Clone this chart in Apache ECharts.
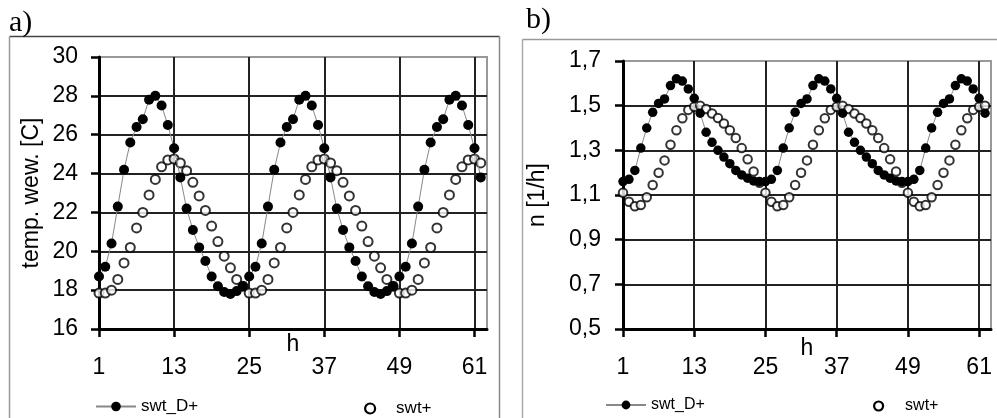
<!DOCTYPE html>
<html>
<head>
<meta charset="utf-8">
<script src="https://cdn.jsdelivr.net/npm/echarts@6/dist/echarts.min.js"></script>
<style>
html,body{margin:0;padding:0;background:#fff;}
#c{width:997px;height:418px;}
</style>
</head>
<body>
<div id="c"></div>
<script>
// ---------- data ----------
const hours = [];
for (let i = 1; i <= 63; i++) hours.push(String(i));

// panel a) temperature [C], hours 1..62
const tempSwtD = [
  18.7,19.2,20.4,22.3,24.2,25.6,26.4,26.8,27.8,28.0,27.5,26.5,25.3,23.8,22.2,21.1,20.2,19.5,18.7,18.2,17.9,17.8,17.95,18.2,
  18.7,19.2,20.4,22.3,24.2,25.6,26.4,26.8,27.8,28.0,27.5,26.5,25.3,23.8,22.2,21.1,20.2,19.5,18.7,18.2,17.9,17.8,17.95,18.2,
  18.7,19.2,20.4,22.3,24.2,25.6,26.4,26.8,27.8,28.0,27.5,26.5,25.3,23.8
];
const tempSwt = [
  17.85,17.85,18.0,18.55,19.4,20.2,21.2,22.0,22.9,23.7,24.35,24.7,24.75,24.55,24.15,23.55,22.85,22.1,21.3,20.5,19.75,19.15,18.55,18.2,
  17.85,17.85,18.0,18.55,19.4,20.2,21.2,22.0,22.9,23.7,24.35,24.7,24.75,24.55,24.15,23.55,22.85,22.1,21.3,20.5,19.75,19.15,18.55,18.2,
  17.85,17.85,18.0,18.55,19.4,20.2,21.2,22.0,22.9,23.7,24.35,24.7,24.75,24.55
];
// panel b) air change rate n [1/h]
const nSwtD = [
  1.16,1.17,1.21,1.31,1.40,1.47,1.51,1.53,1.59,1.62,1.61,1.575,1.533,1.466,1.381,1.336,1.30,1.27,1.24,1.21,1.19,1.175,1.163,1.16,
  1.16,1.17,1.21,1.31,1.40,1.47,1.51,1.53,1.59,1.62,1.61,1.575,1.533,1.466,1.381,1.336,1.30,1.27,1.24,1.21,1.19,1.175,1.163,1.16,
  1.16,1.17,1.21,1.31,1.40,1.47,1.51,1.53,1.59,1.62,1.61,1.575,1.533,1.466
];
const nSwt = [
  1.11,1.07,1.05,1.055,1.09,1.145,1.20,1.255,1.325,1.39,1.444,1.481,1.495,1.50,1.485,1.465,1.445,1.42,1.39,1.355,1.31,1.26,1.205,1.155,
  1.11,1.07,1.05,1.055,1.09,1.145,1.20,1.255,1.325,1.39,1.444,1.481,1.495,1.50,1.485,1.465,1.445,1.42,1.39,1.355,1.31,1.26,1.205,1.155,
  1.11,1.07,1.05,1.055,1.09,1.145,1.20,1.255,1.325,1.39,1.444,1.481,1.495,1.50
];
const seriesNames = ['swt_D+', 'swt+'];
const panelTitles = ['a)', 'b)'];
const yNames = ['temp. wew. [C]', 'n [1/h]'];
const xName = 'h';

// ---------- chart ----------
const chart = echarts.init(document.getElementById('c'), null, {renderer: 'canvas'});
const F = 'Liberation Sans, Arial, sans-serif';

function xAxis(gi, gap) {
  return {
    type: 'category', gridIndex: gi, data: hours, boundaryGap: false,
    name: xName, nameLocation: 'middle', nameGap: gap, nameMoveOverlap: false,
    nameTextStyle: {fontFamily: F, fontSize: 23, color: '#000'},
    axisLine: {lineStyle: {color: '#000', width: 3}},
    axisTick: {interval: 11, length: 8, lineStyle: {color: '#000', width: 2.5}},
    axisLabel: {interval: 11, margin: 27, fontFamily: F, fontSize: 23, color: '#000'},
    splitLine: {show: true, interval: 11, lineStyle: {color: '#222', width: 2}}
  };
}
function yAxis(gi, min, max, interval, nm, gap, fmt, nLines, margin) {
  const cols = [];
  for (let i = 0; i < nLines; i++) cols.push(i === nLines - 1 ? '#999' : '#222');
  return {
    type: 'value', gridIndex: gi, min: min, max: max, interval: interval,
    name: nm, nameLocation: 'middle', nameGap: gap, nameRotate: 90, nameMoveOverlap: false,
    nameTextStyle: {fontFamily: F, fontSize: 23, color: '#000'},
    axisLine: {show: true, lineStyle: {color: '#000', width: 3}},
    axisTick: {show: true, length: 8, lineStyle: {color: '#000', width: 2.5}},
    axisLabel: {margin: margin, fontFamily: F, fontSize: 23, color: '#000', formatter: fmt},
    splitLine: {show: true, lineStyle: {color: cols, width: 2}}
  };
}

const openStyle = {color: '#fff', borderColor: '#000', borderWidth: 2};
const openLegendItem = {name: seriesNames[1], icon: 'circle',
  itemStyle: {color: '#fff', borderColor: '#000', borderWidth: 2.2, opacity: 1}};

const option = {
  animation: false,
  backgroundColor: '#fff',
  graphic: [
    {type: 'line', shape: {x1: 9.5, y1: 36.5, x2: 499.5, y2: 36.5}, style: {stroke: '#444', lineWidth: 1.5}, silent: true},
    {type: 'line', shape: {x1: 9.5, y1: 36.5, x2: 9.5, y2: 418}, style: {stroke: '#999', lineWidth: 1.5}, silent: true},
    {type: 'line', shape: {x1: 499.5, y1: 36.5, x2: 499.5, y2: 418}, style: {stroke: '#888', lineWidth: 1.5}, silent: true},
    {type: 'line', shape: {x1: 522.5, y1: 39.5, x2: 997, y2: 39.5}, style: {stroke: '#999', lineWidth: 1.5}, silent: true},
    {type: 'line', shape: {x1: 522.5, y1: 39.5, x2: 522.5, y2: 418}, style: {stroke: '#aaa', lineWidth: 1.5}, silent: true},
    {type: 'text', style: {text: panelTitles[0], x: 9, y: 23, verticalAlign: 'middle', font: '30px "Liberation Serif", "Times New Roman", serif', fill: '#000'}, silent: true},
    {type: 'text', style: {text: panelTitles[1], x: 526, y: 20, verticalAlign: 'middle', font: '30px "Liberation Serif", "Times New Roman", serif', fill: '#000'}, silent: true}
  ],
  grid: [
    {left: 99, top: 57, width: 388, height: 272, show: true, borderColor: '#999', borderWidth: 2, backgroundColor: 'transparent', containLabel: false},
    {left: 623, top: 61, width: 368, height: 268, show: true, borderColor: '#999', borderWidth: 2, backgroundColor: 'transparent', containLabel: false}
  ],
  xAxis: [xAxis(0, 4), xAxis(1, 8)],
  yAxis: [
    yAxis(0, 16, 30, 2, yNames[0], 56, v => String(v), 8, 21),
    yAxis(1, 0.5, 1.7, 0.2, yNames[1], 74, v => v.toFixed(1).replace('.', ','), 7, 22)
  ],
  legend: [
    {data: [seriesNames[0]], left: 90, top: 393, itemWidth: 40, itemHeight: 12, itemGap: 0,
     textStyle: {fontFamily: F, fontSize: 17, color: '#000'}},
    {data: [openLegendItem], left: 359, top: 395, itemWidth: 10, itemHeight: 10,
     textStyle: {fontFamily: F, fontSize: 17, color: '#000', padding: [0, 0, 0, 16]}},
    {data: [seriesNames[0]], left: 600, top: 392, itemWidth: 40, itemHeight: 11,
     textStyle: {fontFamily: F, fontSize: 16, color: '#000'}},
    {data: [openLegendItem], left: 868, top: 393, itemWidth: 9, itemHeight: 9,
     textStyle: {fontFamily: F, fontSize: 16, color: '#000', padding: [0, 0, 0, 17]}}
  ],
  series: [
    {name: seriesNames[1], type: 'scatter', xAxisIndex: 0, yAxisIndex: 0, data: tempSwt, z: 2,
     symbol: 'circle', symbolSize: 9, itemStyle: openStyle},
    {name: seriesNames[0], type: 'line', xAxisIndex: 0, yAxisIndex: 0, data: tempSwtD, z: 3,
     symbol: 'circle', symbolSize: 10, showAllSymbol: true,
     itemStyle: {color: '#000'}, lineStyle: {color: '#888', width: 1}},
    {name: seriesNames[1], type: 'scatter', xAxisIndex: 1, yAxisIndex: 1, data: nSwt, z: 2,
     symbol: 'circle', symbolSize: 8.5, itemStyle: openStyle},
    {name: seriesNames[0], type: 'line', xAxisIndex: 1, yAxisIndex: 1, data: nSwtD, z: 3,
     symbol: 'circle', symbolSize: 9.5, showAllSymbol: true,
     itemStyle: {color: '#000'}, lineStyle: {color: '#888', width: 1}}
  ]
};
chart.setOption(option);
</script>
</body>
</html>
